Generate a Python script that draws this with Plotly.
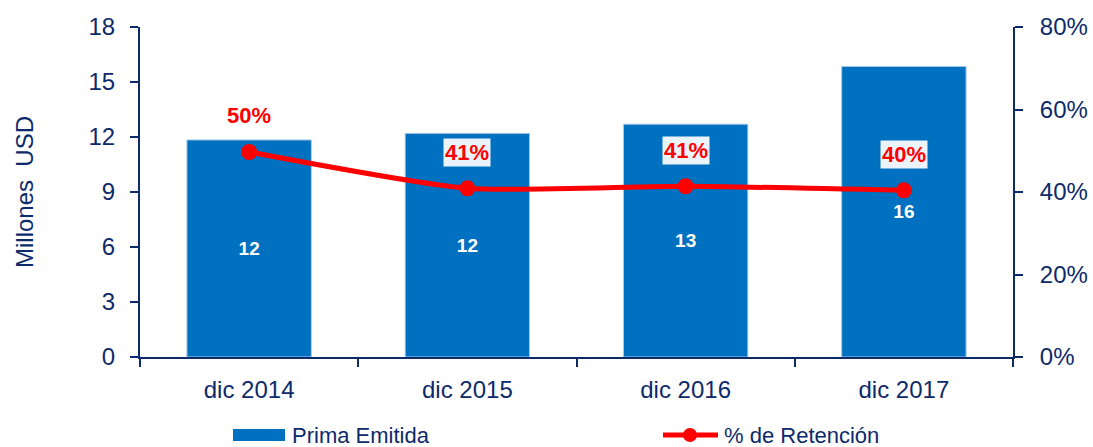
import plotly.graph_objects as go

categories = ["dic 2014", "dic 2015", "dic 2016", "dic 2017"]
prima_emitida = [11.84, 12.2, 12.7, 15.85]
prima_labels = ["12", "12", "13", "16"]
retencion = [49.7, 40.9, 41.4, 40.4]
retencion_labels = ["50%", "41%", "41%", "40%"]
y_ticks = [0, 3, 6, 9, 12, 15, 18]
y2_ticks = [0, 20, 40, 60, 80]
y2_ticktext = ["0%", "20%", "40%", "60%", "80%"]
legend_names = ["Prima Emitida", "% de Retención"]

NAVY = "#0D2A6B"
BLUE = "#0070C0"
RED = "#FF0000"
FONT = "Arial, Liberation Sans, sans-serif"

fig = go.Figure()
fig.add_trace(go.Bar(
    x=categories, y=prima_emitida, name=legend_names[0],
    marker=dict(color=BLUE, line=dict(color="#A9CCEA", width=1)),
    width=0.57,
    text=prima_labels, textposition="inside", insidetextanchor="middle",
    textfont=dict(color="white", size=19, family=FONT, weight="bold"),
    hoverinfo="skip", showlegend=False,
))
fig.add_trace(go.Scatter(
    x=categories, y=retencion, name=legend_names[1], yaxis="y2",
    mode="lines+markers",
    line=dict(color=RED, width=5, shape="spline", smoothing=0.6),
    marker=dict(color=RED, size=16),
    hoverinfo="skip", showlegend=False,
))

for c, v, t in zip(categories, retencion, retencion_labels):
    fig.add_annotation(
        x=c, y=v, xref="x", yref="y2", text="<b>%s</b>" % t,
        showarrow=False, yshift=36,
        font=dict(color=RED, size=22, family=FONT),
        bgcolor="rgba(255,255,255,0.92)", borderpad=1,
    )

# Manual legend (paper coordinates)
fig.add_shape(type="rect", xref="paper", yref="paper",
              x0=0.1065, x1=0.1661, y0=-0.2545, y1=-0.2182,
              fillcolor=BLUE, line=dict(width=0))
fig.add_annotation(xref="paper", yref="paper", x=0.1718, y=-0.2364,
                   xanchor="left", yanchor="middle", showarrow=False,
                   text=legend_names[0], font=dict(size=22, color=NAVY, family=FONT))
fig.add_shape(type="line", xref="paper", yref="paper",
              x0=0.5991, x1=0.6621, y0=-0.2364, y1=-0.2364,
              line=dict(color=RED, width=5))
fig.add_shape(type="circle", xref="paper", yref="paper",
              xsizemode="pixel", ysizemode="pixel",
              xanchor=0.630, yanchor=-0.2364,
              x0=-7, x1=7, y0=-7, y1=7,
              fillcolor=RED, line=dict(width=0))
fig.add_annotation(xref="paper", yref="paper", x=0.6667, y=-0.2364,
                   xanchor="left", yanchor="middle", showarrow=False,
                   text=legend_names[1], font=dict(size=22, color=NAVY, family=FONT))

fig.update_layout(
    width=1093, height=447,
    margin=dict(l=140, r=80, t=27, b=90, autoexpand=False),
    paper_bgcolor="white", plot_bgcolor="white",
    font=dict(family=FONT, color=NAVY, size=24),
    showlegend=False,
    xaxis=dict(
        showline=True, linecolor=NAVY, linewidth=2,
        ticks="outside", tickson="boundaries", ticklen=8, tickcolor=NAVY, tickwidth=2,
        tickfont=dict(size=24, color=NAVY), showgrid=False,
        ticklabelstandoff=10,
    ),
    yaxis=dict(
        range=[0, 18], tickvals=y_ticks,
        showline=True, linecolor=NAVY, linewidth=2,
        ticks="outside", ticklen=8, tickcolor=NAVY, tickwidth=2,
        tickfont=dict(size=24, color=NAVY), showgrid=False, zeroline=False,
        ticklabelstandoff=10,
        title=dict(text="Millones  USD", font=dict(size=24, color=NAVY), standoff=48),
    ),
    yaxis2=dict(
        range=[0, 80], tickvals=y2_ticks, ticktext=y2_ticktext,
        overlaying="y", side="right",
        showline=True, linecolor=NAVY, linewidth=2,
        ticks="outside", ticklen=8, tickcolor=NAVY, tickwidth=2,
        tickfont=dict(size=24, color=NAVY), showgrid=False, zeroline=False,
        ticklabelstandoff=12,
    ),
)

fig.write_html("out.html", config={"displayModeBar": False},
               post_script="document.body.style.margin='0';document.body.style.overflow='hidden';")
